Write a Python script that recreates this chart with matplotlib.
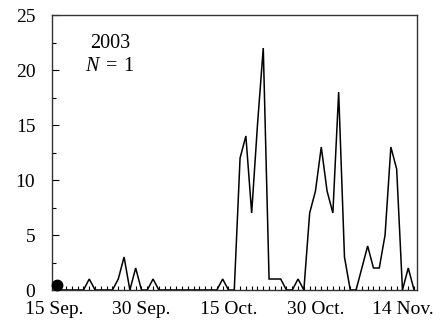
import matplotlib
matplotlib.use("Agg")
import matplotlib.pyplot as plt
from matplotlib.ticker import MultipleLocator, FixedLocator

plt.rcParams['font.family'] = ['Liberation Serif', 'DejaVu Serif']
plt.rcParams['mathtext.fontset'] = 'custom'
plt.rcParams['mathtext.it'] = 'Liberation Serif:italic'
plt.rcParams['mathtext.rm'] = 'Liberation Serif'

# Day index 0 = 15 Sep.
days = list(range(63))
counts = [0, 0, 0, 0, 0, 0, 1, 0, 0, 0,
          0, 1, 3, 0, 2, 0, 0, 1, 0, 0,
          0, 0, 0, 0, 0, 0, 0, 0, 0, 1,
          0, 0, 12, 14, 7, 15, 22, 1, 1, 1,
          0, 0, 1, 0, 7, 9, 13, 9, 7, 18,
          3, 0, 0, 2, 4, 2, 2, 5, 13, 11,
          0, 2, 0]
tick_days = [0, 15, 30, 45, 60]
tick_labels = ["15 Sep.", "30 Sep.", "15 Oct.", "30 Oct.", "14 Nov."]
dot_day = [0.5]
dot_value = [0.45]
year_text = "2003"
n_text = r"$N\;=\;1$"

fig = plt.figure(figsize=(4.42, 3.30), dpi=100)
ax = fig.add_axes([0.1176, 0.1212, 0.8251, 0.8333])

ax.plot(days, counts, color='black', lw=1.1, solid_joinstyle='miter', zorder=3)
ax.plot(dot_day, dot_value, 'o', color='black', ms=7.5, zorder=4, clip_on=False)

ax.set_xlim(-0.43, 62.45)
ax.set_ylim(0, 25)

ax.xaxis.set_major_locator(FixedLocator(tick_days))
ax.set_xticklabels(tick_labels)
ax.xaxis.set_minor_locator(MultipleLocator(1))
ax.yaxis.set_major_locator(MultipleLocator(5))
ax.yaxis.set_minor_locator(MultipleLocator(2.5))

ax.tick_params(axis='x', which='both', direction='in', length=3, width=0.8, pad=8, labelsize=14)
ax.tick_params(axis='y', which='major', direction='in', length=5, width=0.8, pad=12, labelsize=14)
ax.tick_params(axis='y', which='minor', direction='in', length=3, width=0.8)
ax.tick_params(axis='y', which='both', right=False)
ax.tick_params(axis='x', which='both', top=False)

for s in ax.spines.values():
    s.set_linewidth(1.0)
    s.set_color('#333333')

ax.text(0.159, 0.898, year_text, transform=ax.transAxes, ha='center', va='center', fontsize=14.5)
ax.text(0.159, 0.811, n_text, transform=ax.transAxes, ha='center', va='center', fontsize=14.5)

fig.savefig("out.png", dpi=100)
